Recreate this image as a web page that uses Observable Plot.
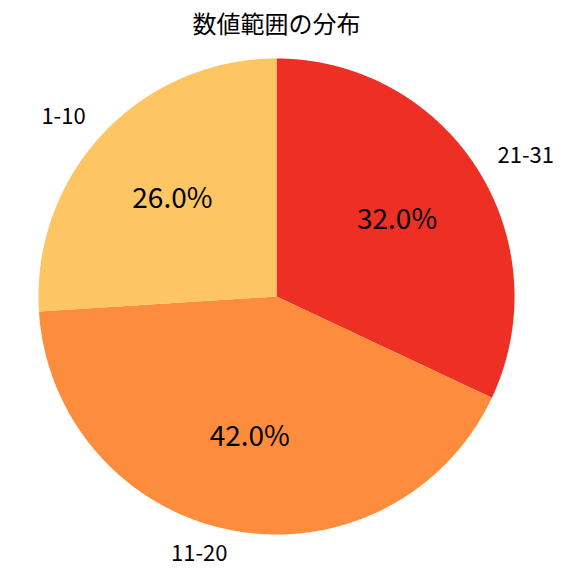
<!DOCTYPE html>
<html>
<head>
<meta charset="utf-8">
<script src="https://cdn.jsdelivr.net/npm/d3@7"></script>
<script src="https://cdn.jsdelivr.net/npm/@observablehq/plot@0.6"></script>
<style>
  html, body { margin: 0; padding: 0; background: #fff; }
  svg { display: block; }
</style>
</head>
<body>
<div id="chart"></div>
<script>
const title = "数値範囲の分布";
const categories = ["21-31", "11-20", "1-10"];
const shares = [32.0, 42.0, 26.0];
const colors = ["#EE3024", "#FD8D3C", "#FDC663"];

const total = d3.sum(shares);
let start = 0;
const slices = categories.map((c, i) => {
  const a0 = start / total * 2 * Math.PI;
  start += shares[i];
  const a1 = start / total * 2 * Math.PI;
  return {category: c, share: shares[i], a0, a1, mid: (a0 + a1) / 2};
});

const outline = [];
for (const s of slices) {
  outline.push({category: s.category, x: 0, y: 0});
  const n = Math.max(2, Math.ceil((s.a1 - s.a0) / 0.005));
  for (let k = 0; k <= n; k++) {
    const a = s.a0 + (s.a1 - s.a0) * k / n;
    outline.push({category: s.category, x: Math.sin(a), y: Math.cos(a)});
  }
}

const pctLabels = slices.map(s => ({text: s.share.toFixed(1) + "%", x: 0.6 * Math.sin(s.mid), y: 0.6 * Math.cos(s.mid)}));
const catLabels = slices.map(s => ({text: s.category, x: 1.1 * Math.sin(s.mid), y: 1.1 * Math.cos(s.mid)}));

const font = "'Noto Sans CJK JP', 'Noto Sans', sans-serif";
const cx = 276, cy = 296, R = 238;

const chart = Plot.plot({
  width: 576,
  height: 576,
  margin: 0,
  style: {fontFamily: font, background: "#fff"},
  x: {domain: [-1, 1], range: [cx - R, cx + R], axis: null},
  y: {domain: [-1, 1], range: [cy + R, cy - R], axis: null},
  color: {domain: categories, range: colors},
  marks: [
    Plot.line(outline, {x: "x", y: "y", z: "category", fill: "category", stroke: "none"}),
    Plot.text(pctLabels, {x: "x", y: "y", text: "text", fontSize: 28, fill: "#000"}),
    Plot.text(catLabels.filter(d => d.x >= 0), {x: "x", y: "y", text: "text", textAnchor: "start", fontSize: 22, fill: "#000"}),
    Plot.text(catLabels.filter(d => d.x < 0), {x: "x", y: "y", text: "text", textAnchor: "end", fontSize: 22, fill: "#000"}),
    Plot.text([title], {x: () => 0, frameAnchor: "top", text: d => d, dy: 25, lineAnchor: "middle", fontSize: 24, fill: "#000"})
  ]
});
document.getElementById("chart").appendChild(chart);
</script>
</body>
</html>
